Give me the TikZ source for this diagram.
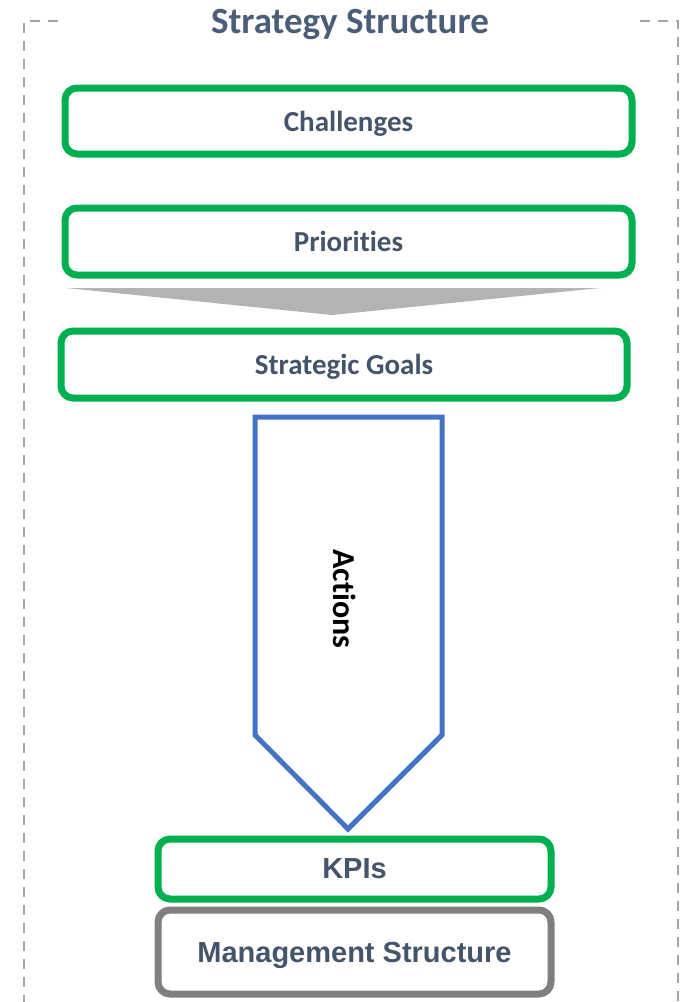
\documentclass[tikz,border=0pt]{standalone}
\usepackage{fontspec}
\setmainfont{Carlito}[Ligatures=NoCommon]
\newfontfamily\arialfont{Liberation Sans}
\definecolor{stgreen}{HTML}{00B050}
\definecolor{stgray}{HTML}{7F7F7F}
\definecolor{stframe}{HTML}{A6A6A6}
\definecolor{sttext}{HTML}{44546A}
\definecolor{sttitle}{HTML}{4A5E7A}
\definecolor{stblue}{HTML}{4472C4}
\definecolor{stwedge}{HTML}{B3B3B3}
\begin{document}
\begin{tikzpicture}[x=1pt,y=-1pt,
  greenbox/.style={draw=stgreen,line width=7pt,rounded corners=12pt,fill=white,
    text=sttext,font=\fontsize{29}{33}\selectfont\bfseries,inner sep=0pt,text depth=0pt},
  graybox/.style={draw=stgray,line width=7pt,rounded corners=12pt,fill=white,
    text=sttext,font=\arialfont\fontsize{29}{33}\selectfont\bfseries,inner sep=0pt,text depth=0pt},
  framedash/.style={draw=stframe,line width=2pt,dash pattern=on 10pt off 8pt}]
\useasboundingbox (0,0) rectangle (685,1002);

% dashed outer frame, open at the bottom and interrupted by the title
\draw[framedash] (58,21) -- (24,21) -- (24,1002);
\draw[framedash] (640,21) -- (678,21) -- (678,1002);
\node[text=sttitle,font=\fontsize{37}{40}\selectfont\bfseries] (title) at (350,25) {Strategy Structure};

% strategy boxes
\node[greenbox,minimum width=567pt,minimum height=66pt] (chal) at (348.5,121) {Challenges};
\node[greenbox,minimum width=567pt,minimum height=67pt] (prio) at (348.5,241.5) {Priorities};

% funnel wedge between priorities and goals
\fill[stwedge] (66,288) -- (600,288) -- (332,315) -- cycle;

\node[greenbox,minimum width=566pt,minimum height=67pt] (goals) at (344,364.5) {Strategic Goals};

% actions pentagon arrow
\draw[stblue,line width=5pt,fill=white,line join=miter]
  (255,417) -- (442,417) -- (442,735) -- (348,829) -- (255,735) -- cycle;
\node[rotate=-90,font=\fontsize{32}{35}\selectfont\bfseries,text=black] (actions) at (345,599) {Actions};

\node[greenbox,font=\arialfont\fontsize{29}{33}\selectfont\bfseries,
  minimum width=393pt,minimum height=60pt] (kpi) at (354.5,869) {KPIs};
\node[graybox,minimum width=393pt,minimum height=84pt] (mgmt) at (354.5,952) {Management Structure};
\end{tikzpicture}
\end{document}
